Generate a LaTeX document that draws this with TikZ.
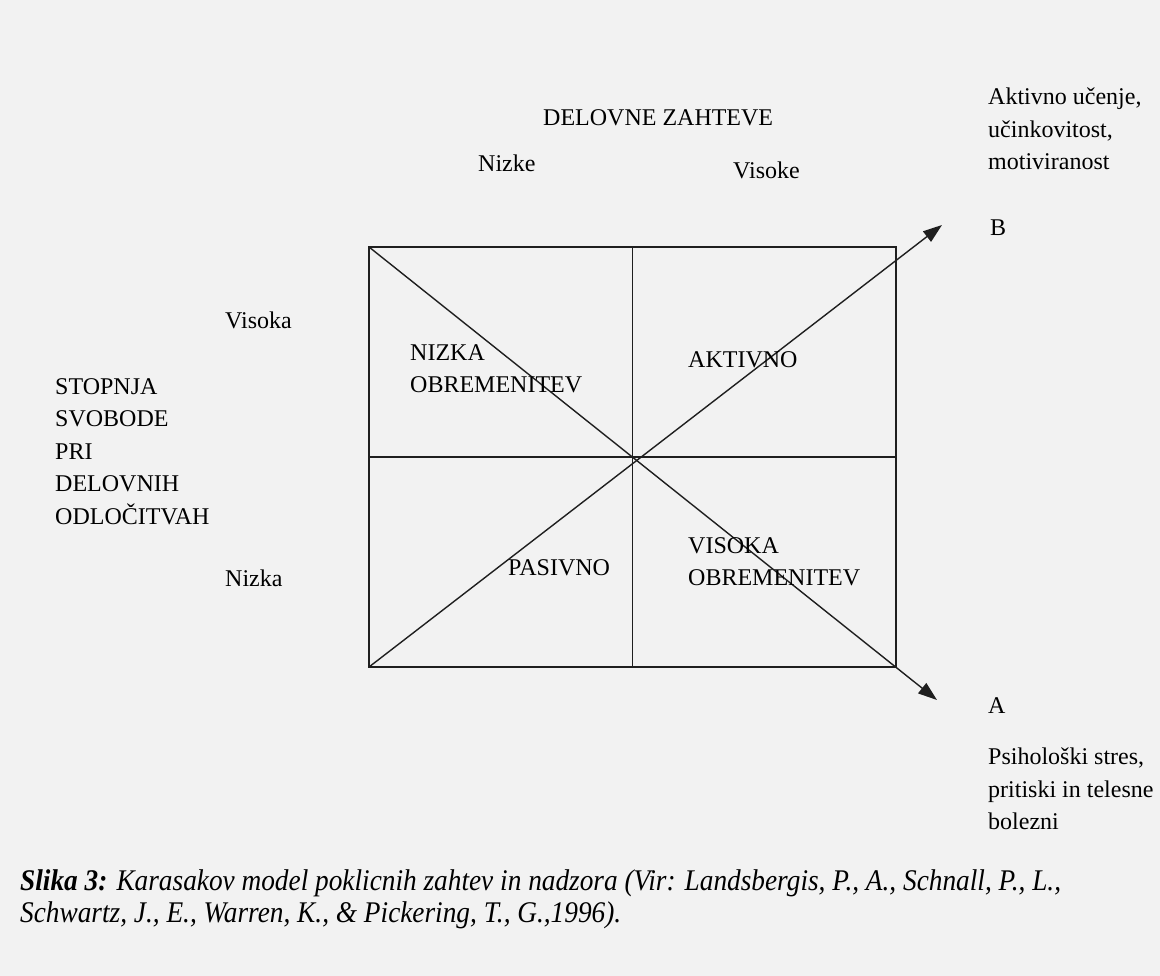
\documentclass[tikz,border=0pt]{standalone}
\usepackage{fontspec}
\setmainfont{Liberation Serif}
\usetikzlibrary{arrows.meta}
\begin{document}
\begin{tikzpicture}[x=1pt,y=-1pt,
  lbl/.style={inner sep=0pt,anchor=west,font=\fontsize{24}{32}\selectfont},
  blk/.style={inner sep=0pt,anchor=north west,align=left,font=\fontsize{24}{32.5}\selectfont},
  ln/.style={line width=1.4pt,black!88},
  arr/.style={ln,-{Triangle[length=19pt,width=13pt]}}]
\fill[black!5] (0,0) rectangle (1160,976);
\useasboundingbox (0,0) rectangle (1160,976);
% box corners
\coordinate (TL) at (369,247);
\coordinate (TR) at (896,247);
\coordinate (BL) at (369,667);
\coordinate (BR) at (896,667);
\coordinate (TM) at (632.5,247);
\coordinate (BM) at (632.5,667);
\coordinate (LM) at (369,457);
\coordinate (RM) at (896,457);
\coordinate (Atip) at (937,700);
\coordinate (Btip) at (942,225);
\draw[ln] (TL) rectangle (BR);
\draw[ln] (TM) -- (BM);
\draw[ln] (LM) -- (RM);
\draw[arr] (TL) -- (Atip);
\draw[arr] (BL) -- (Btip);
% axis labels
\node[lbl] (dz) at (543,118) {DELOVNE ZAHTEVE};
\node[lbl] (nizke) at (478,163) {Nizke};
\node[lbl] (visoke) at (733,170) {Visoke};
\node[lbl] (visoka) at (225,320) {Visoka};
\node[lbl] (nizka) at (225,578) {Nizka};
\node[blk] (ss) at (55,378) {STOPNJA\\SVOBODE\\PRI\\DELOVNIH\\ODLOČITVAH};
% quadrant labels
\node[blk] (no) at (410,344) {NIZKA\\OBREMENITEV};
\node[lbl] (akt) at (688,360) {AKTIVNO};
\node[lbl] (pas) at (508,568) {PASIVNO};
\node[blk] (vo) at (688,537) {VISOKA\\OBREMENITEV};
% outcome labels
\node[blk] (aku) at (988,88) {Aktivno učenje,\\učinkovitost,\\motiviranost};
\node[lbl] (B) at (990,228) {B};
\node[lbl] (A) at (988,706) {A};
\node[blk] (ps) at (988,748) {Psihološki stres,\\pritiski in telesne\\bolezni};
% caption
\node[inner sep=0pt,anchor=north west,align=left,font=\fontsize{30}{32}\selectfont\itshape] (cap) at (20,869)
 {\scalebox{0.91}[1]{\textbf{Slika 3:} Karasakov model poklicnih zahtev in nadzora (Vir: Landsbergis, P., A., Schnall, P., L.,}\\
  \scalebox{0.91}[1]{Schwartz, J., E., Warren, K., \& Pickering, T., G.,1996).}};
\end{tikzpicture}
\end{document}
